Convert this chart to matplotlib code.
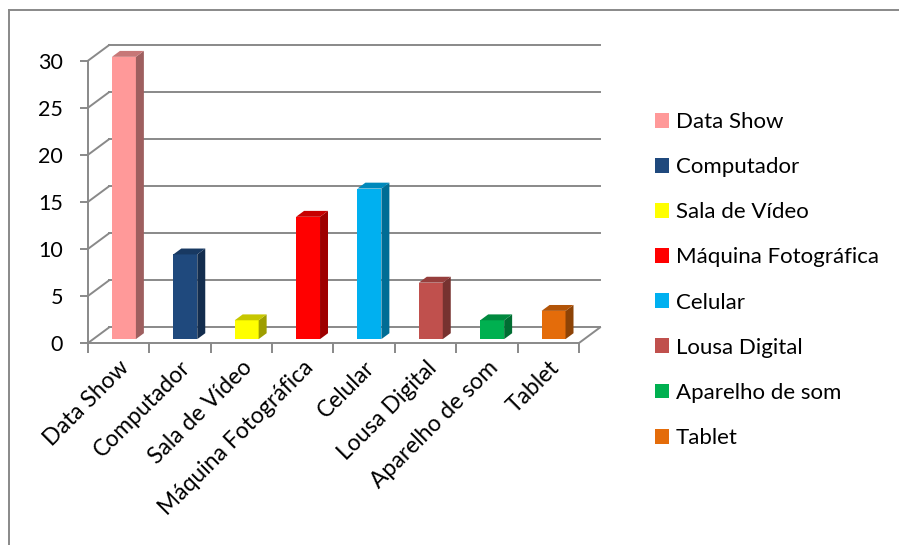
import matplotlib.pyplot as plt
from matplotlib.patches import Polygon, Patch
from matplotlib.colors import to_rgb
from matplotlib.lines import Line2D

plt.rcParams['font.family'] = ['Lato', 'DejaVu Sans']

# data
categories = ['Data Show', 'Computador', 'Sala de Vídeo', 'Máquina Fotográfica',
              'Celular', 'Lousa Digital', 'Aparelho de som', 'Tablet']
values = [30, 9, 2, 13, 16, 6, 2, 3]
colors = ['#FF9999', '#1F497D', '#FFFF00', '#FF0000',
          '#00B0F0', '#C0504D', '#00B050', '#E46C0A']
yticks = [0, 5, 10, 15, 20, 25, 30]

grid_col = '#898989'
n = len(categories)

# 3d look: depth offset of the back wall, in data units
dxd = 0.342
dyd = 1.65
bar_w = 0.39
f_front = 0.25
f_depth = 0.38

fig = plt.figure(figsize=(8.99, 5.45), dpi=100)
ax = fig.add_axes([88 / 899, 1 - 343 / 545, 491 / 899, 282.3 / 545])
ax.set_xlim(0, n)
ax.set_ylim(0, 30)

# back wall gridlines + diagonal side lines
for v in yticks:
    ax.add_line(Line2D([dxd, n + dxd], [v + dyd, v + dyd], color=grid_col, lw=1.4,
                       clip_on=False, zorder=1))
    ax.add_line(Line2D([0, dxd], [v, v + dyd], color=grid_col, lw=1.4,
                       clip_on=False, zorder=1))
ax.add_line(Line2D([n, n + dxd], [0, dyd], color=grid_col, lw=1.4, clip_on=False, zorder=1))


def shade(c, k):
    r, g, b = to_rgb(c)
    return (r * k, g * k, b * k)


for i, (v, c) in enumerate(zip(values, colors)):
    x0 = i + 0.5 - bar_w / 2 + f_front * dxd
    y0 = f_front * dyd
    ddx = f_depth * dxd
    ddy = f_depth * dyd
    x1 = x0 + bar_w
    front = Polygon([(x0, y0), (x1, y0), (x1, y0 + v), (x0, y0 + v)],
                    closed=True, facecolor=c, edgecolor='none', clip_on=False, zorder=3)
    side = Polygon([(x1, y0), (x1 + ddx, y0 + ddy), (x1 + ddx, y0 + v + ddy), (x1, y0 + v)],
                   closed=True, facecolor=shade(c, 0.62), edgecolor='none', clip_on=False, zorder=3)
    top = Polygon([(x0, y0 + v), (x0 + ddx, y0 + v + ddy), (x1 + ddx, y0 + v + ddy), (x1, y0 + v)],
                  closed=True, facecolor=shade(c, 0.78), edgecolor='none', clip_on=False, zorder=3)
    for p in (front, side, top):
        ax.add_patch(p)

# axes styling
for s in ['top', 'right']:
    ax.spines[s].set_visible(False)
for s in ['left', 'bottom']:
    ax.spines[s].set_color(grid_col)
    ax.spines[s].set_linewidth(1.4)
ax.set_yticks(yticks)
ax.tick_params(axis='y', colors=grid_col, length=6, width=1.4, labelcolor='black',
               labelsize=15.5, pad=12)
ax.set_xticks(range(n + 1))
ax.set_xticks([i + 0.5 for i in range(n)], minor=True)
ax.set_xticklabels([])
ax.set_xticklabels(categories, minor=True, rotation=45, ha='right', rotation_mode='anchor')
ax.tick_params(axis='x', which='major', colors=grid_col, length=7, width=1.4)
ax.tick_params(axis='x', which='minor', length=0, labelsize=16.5, pad=10)

# legend
handles = [Patch(facecolor=c, edgecolor='none') for c in colors]
fig.legend(handles, categories, loc='center left', bbox_to_anchor=(635 / 899, 1 - 280 / 545),
           frameon=False, fontsize=16, handlelength=0.65, handleheight=0.65,
           handletextpad=0.3, labelspacing=1.13)

# outer frame
fig.add_artist(Line2D([9 / 899, 1], [1 - 10 / 545, 1 - 10 / 545], color=grid_col, lw=1.4,
                      transform=fig.transFigure))
fig.add_artist(Line2D([9 / 899, 9 / 899], [0, 1 - 10 / 545], color=grid_col, lw=1.4,
                      transform=fig.transFigure))

fig.savefig('out.png', dpi=100)
